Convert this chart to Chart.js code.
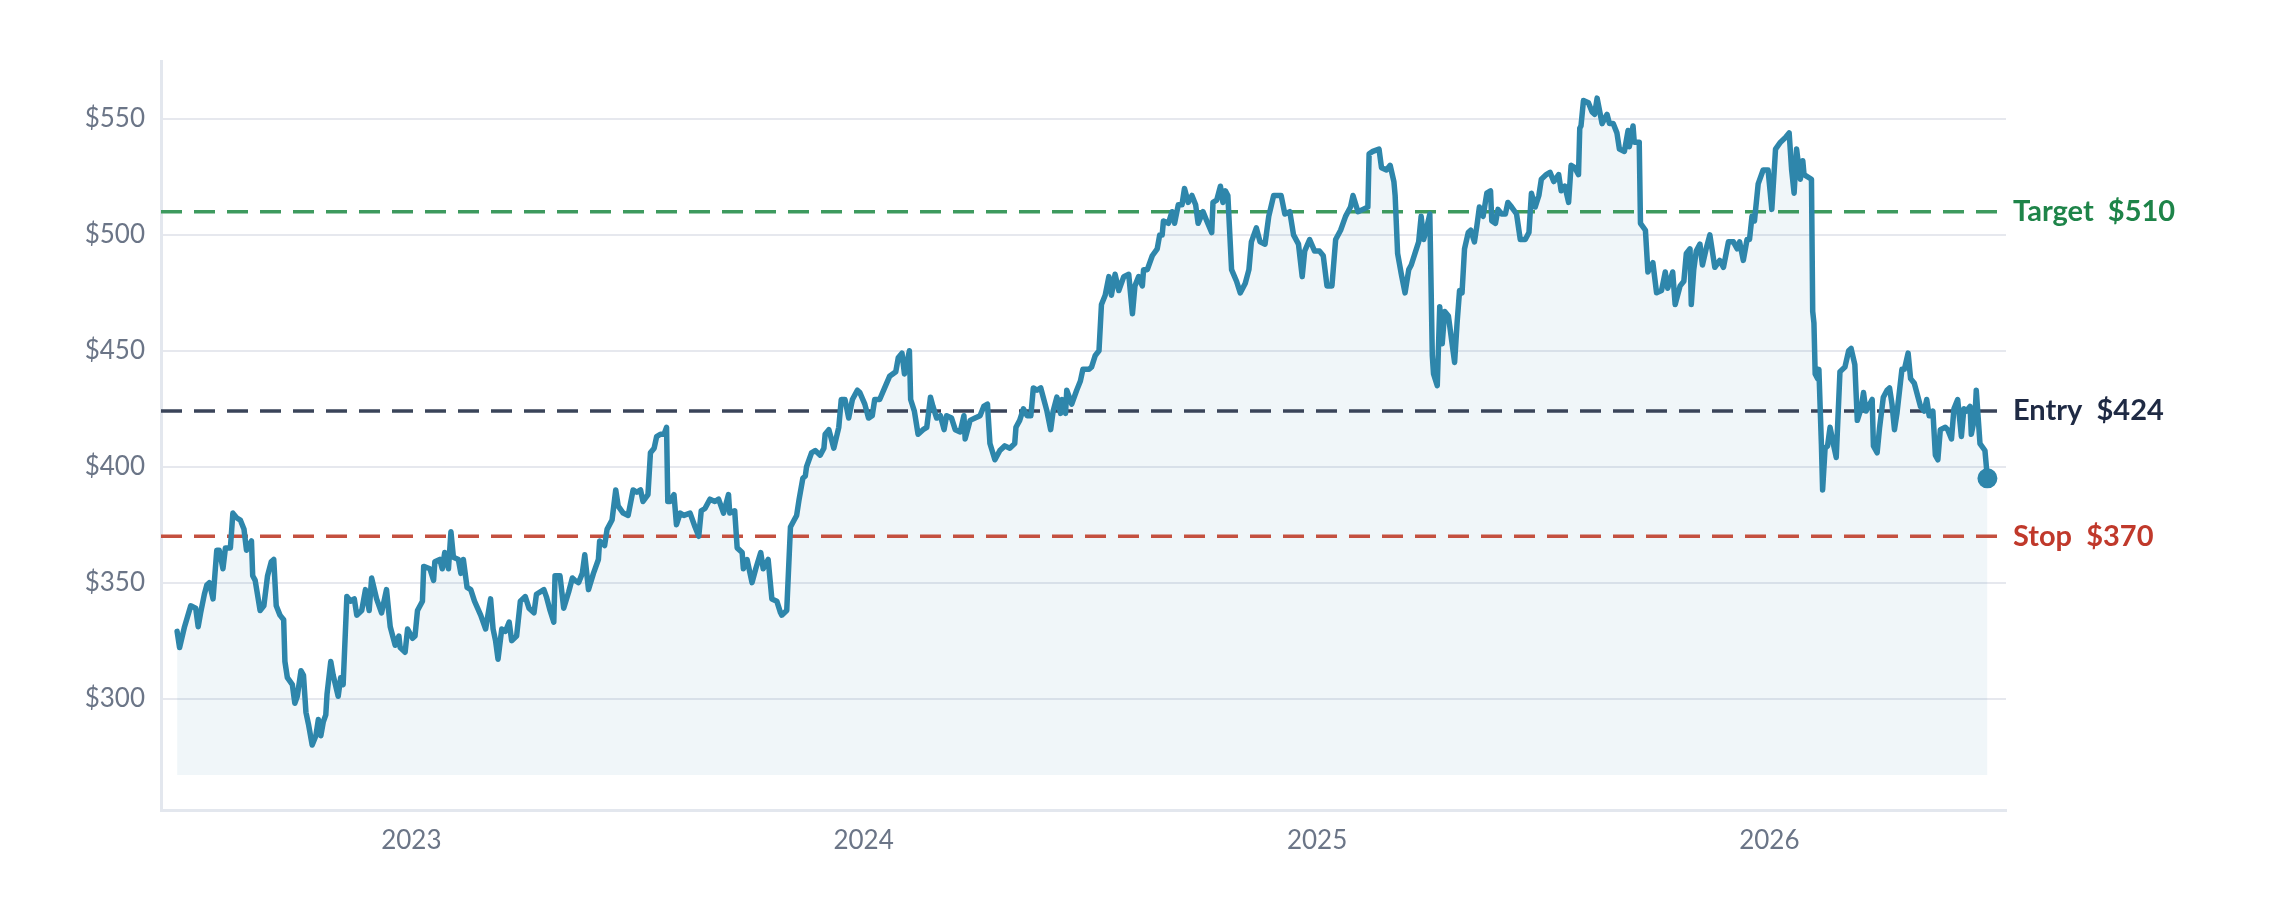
<!DOCTYPE html>
<html>
<head>
<meta charset="utf-8">
<script src="https://cdn.jsdelivr.net/npm/chart.js@4.4.1/dist/chart.umd.min.js"></script>
<style>
  html, body { margin: 0; background: #fff; }
  #wrap { width: 2280px; height: 900px; }
</style>
</head>
<body>
<div id="wrap"><canvas id="price_chart"></canvas></div>
<script>
// days counted from 2022-06-26, closing price
const startDate = Date.UTC(2022, 5, 26);
const dayOffsets = [
  0, 2, 6, 11, 15, 17, 19, 22, 24, 26,
  29, 32, 34, 37, 39, 43, 45, 48, 51, 54,
  56, 60, 61, 63, 67, 70, 73, 76, 78, 80,
  83, 86, 87, 89, 93, 95, 97, 100, 102, 104,
  106, 109, 112, 114, 116, 118, 120, 121, 124, 126,
  130, 132, 134, 137, 140, 143, 145, 149, 152, 155,
  157, 161, 165, 169, 172, 176, 179, 180, 184, 186,
  190, 192, 194, 198, 199, 204, 207, 208, 212, 214,
  216, 219, 221, 223, 227, 229, 231, 234, 237, 240,
  245, 249, 253, 255, 257, 259, 262, 265, 268, 270,
  274, 277, 281, 284, 288, 290, 296, 298, 301, 304,
  305, 309, 312, 316, 319, 321, 324, 327, 329, 332,
  336, 340, 341, 345, 347, 351, 354, 356, 360, 364,
  368, 371, 374, 376, 380, 382, 385, 387, 390, 393,
  395, 396, 398, 401, 403, 406, 409, 414, 418, 421,
  423, 426, 430, 434, 437, 441, 445, 446, 450, 452,
  456, 457, 460, 464, 467, 471, 473, 477, 480, 484,
  487, 488, 492, 495, 498, 500, 502, 505, 507, 508,
  512, 515, 519, 522, 523, 526, 530, 534, 536, 539,
  542, 545, 549, 551, 555, 558, 561, 563, 567, 571,
  575, 580, 582, 585, 587, 591, 592, 595, 598, 602,
  605, 608, 610, 613, 616, 619, 621, 625, 628, 632,
  635, 636, 640, 644, 648, 651, 654, 656, 660, 664,
  668, 672, 676, 677, 680, 683, 686, 689, 691, 694,
  697, 699, 702, 705, 707, 710, 713, 714, 717, 718,
  722, 726, 729, 731, 736, 738, 741, 744, 746, 749,
  752, 754, 757, 760, 764, 768, 771, 773, 776, 779,
  780, 783, 787, 791, 793, 795, 796, 800, 803, 805,
  808, 811, 813, 816, 819, 822, 824, 828, 831, 835,
  836, 839, 842, 844, 846, 848, 851, 855, 858, 862,
  865, 867, 871, 874, 878, 881, 885, 891, 894, 898,
  901, 905, 908, 910, 914, 918, 922, 925, 928, 932,
  935, 939, 943, 947, 949, 953, 957, 961, 962, 965,
  970, 972, 976, 979, 982, 983, 985, 988, 991, 994,
  996, 999, 1002, 1004, 1006, 1008, 1011, 1013, 1014, 1017,
  1019, 1021, 1023, 1026, 1029, 1031, 1033, 1035, 1037, 1039,
  1042, 1044, 1047, 1049, 1051, 1054, 1057, 1060, 1061, 1064,
  1066, 1069, 1072, 1074, 1077, 1081, 1084, 1088, 1091, 1093,
  1096, 1099, 1101, 1105, 1108, 1111, 1115, 1117, 1120, 1123,
  1125, 1128, 1131, 1132, 1133, 1135, 1139, 1142, 1144, 1146,
  1150, 1154, 1156, 1159, 1162, 1164, 1168, 1171, 1172, 1175,
  1176, 1180, 1181, 1185, 1187, 1191, 1194, 1198, 1201, 1203,
  1207, 1209, 1213, 1216, 1218, 1221, 1222, 1224, 1226, 1229,
  1231, 1234, 1237, 1241, 1245, 1248, 1252, 1256, 1259, 1261,
  1264, 1267, 1269, 1271, 1273, 1276, 1280, 1284, 1287, 1290,
  1294, 1298, 1301, 1303, 1305, 1307, 1310, 1312, 1313, 1319,
  1320, 1321, 1322, 1324, 1325, 1327, 1328, 1330, 1332, 1334,
  1337, 1339, 1342, 1346, 1349, 1351, 1354, 1356, 1359, 1361,
  1363, 1368, 1369, 1372, 1374, 1377, 1380, 1382, 1384, 1386,
  1388, 1392, 1394, 1397, 1399, 1402, 1407, 1410, 1412, 1414,
  1417, 1419, 1421, 1423, 1427, 1429, 1432, 1434, 1437, 1440,
  1442, 1444, 1447, 1448, 1451, 1452, 1455, 1459, 1461
];
const prices = [
  329, 322, 331, 340, 339, 331, 337, 345, 349, 350,
  343, 364, 364, 356, 365, 365, 380, 378, 377, 373,
  364, 368, 353, 351, 338, 340, 353, 359, 360, 340,
  336, 334, 316, 309, 306, 298, 301, 312, 310, 294,
  289, 280, 284, 291, 284, 290, 293, 302, 316, 310,
  301, 309, 306, 344, 342, 343, 336, 338, 347, 338,
  352, 343, 337, 347, 331, 323, 327, 322, 320, 330,
  326, 327, 338, 342, 357, 356, 351, 359, 360, 356,
  363, 356, 372, 361, 360, 354, 360, 348, 347, 342,
  336, 330, 343, 330, 325, 317, 330, 329, 333, 325,
  327, 342, 344, 339, 337, 345, 347, 344, 338, 333,
  353, 353, 339, 346, 352, 351, 350, 354, 362, 347,
  354, 360, 368, 366, 373, 377, 390, 383, 380, 379,
  390, 389, 390, 385, 388, 406, 408, 413, 414, 414,
  417, 385, 385, 388, 375, 380, 379, 380, 374, 370,
  381, 382, 386, 385, 386, 380, 388, 380, 381, 365,
  363, 356, 360, 350, 356, 363, 356, 360, 343, 342,
  337, 336, 338, 374, 377, 379, 386, 395, 396, 400,
  406, 407, 405, 408, 414, 416, 408, 417, 429, 429,
  421, 429, 433, 432, 427, 421, 422, 429, 429, 434,
  439, 441, 447, 449, 440, 450, 429, 424, 414, 416,
  417, 430, 426, 421, 422, 416, 422, 421, 416, 415,
  422, 412, 420, 421, 422, 426, 427, 410, 403, 407,
  409, 408, 410, 417, 420, 425, 422, 422, 434, 433,
  434, 430, 424, 416, 424, 430, 423, 429, 423, 433,
  427, 433, 437, 442, 442, 443, 448, 450, 470, 474,
  482, 474, 483, 476, 482, 483, 466, 478, 482, 478,
  485, 485, 491, 494, 500, 500, 506, 505, 510, 505,
  513, 513, 520, 514, 517, 513, 505, 510, 506, 501,
  514, 515, 521, 514, 519, 517, 485, 480, 475, 479,
  485, 497, 503, 497, 496, 508, 517, 517, 509, 510,
  500, 496, 482, 493, 498, 493, 493, 491, 478, 478,
  498, 502, 508, 512, 517, 510, 511, 512, 535, 536,
  537, 529, 528, 530, 523, 517, 492, 483, 475, 485,
  487, 492, 497, 508, 498, 502, 509, 448, 440, 435,
  469, 453, 467, 465, 453, 445, 462, 476, 475, 494,
  501, 502, 497, 504, 512, 508, 518, 519, 506, 505,
  511, 509, 509, 514, 512, 509, 498, 498, 501, 518,
  512, 517, 524, 526, 527, 523, 526, 519, 521, 514,
  530, 529, 526, 546, 547, 558, 557, 553, 552, 559,
  548, 552, 548, 548, 544, 537, 536, 545, 538, 547,
  540, 540, 505, 502, 484, 488, 475, 476, 484, 477,
  484, 470, 478, 480, 492, 494, 470, 485, 493, 496,
  487, 494, 500, 486, 489, 486, 497, 497, 494, 497,
  489, 498, 498, 508, 506, 522, 528, 528, 511, 537,
  540, 542, 544, 528, 518, 537, 524, 532, 526, 524,
  467, 462, 440, 438, 442, 410, 390, 408, 409, 417,
  409, 404, 441, 443, 450, 451, 444, 420, 425, 432,
  424, 429, 409, 406, 417, 430, 433, 434, 427, 416,
  423, 442, 442, 449, 438, 436, 426, 424, 429, 422,
  424, 405, 403, 416, 417, 416, 412, 425, 429, 413,
  425, 424, 426, 414, 422, 433, 410, 407, 395
];
const yearLabels = ['2023', '2024', '2025', '2026'];
const priceTicks = [300, 350, 400, 450, 500, 550];
const levelNames = ['Target', 'Entry', 'Stop'];
const levelPrices = [510, 424, 370];

const levelLineColors = ['#3d9a5e', '#3a4459', '#c4503f'];
const levelTextColors = ['#1e8449', '#1f2a44', '#c0392b'];
const X_MIN = -13, X_MAX = 1476;
const FONT = 'Lato, "Noto Sans", sans-serif';

function dayOf(year) {
  return (Date.UTC(year, 0, 1) - startDate) / 864e5;
}
const yearTicks = yearLabels.map(y => dayOf(+y));

const points = dayOffsets.map((d, i) => ({x: d, y: prices[i]}));
const last = points.length - 1;

const levelSets = levelNames.map((name, i) => ({
  label: name,
  data: [{x: X_MIN, y: levelPrices[i]}, {x: X_MAX, y: levelPrices[i]}],
  borderColor: levelLineColors[i],
  borderWidth: 3.5,
  borderDash: [21, 12],
  pointRadius: 0,
  fill: false,
  order: 2
}));

// level names to the right of the plot
const levelLabels = {
  id: 'levelLabels',
  afterDatasetsDraw(chart) {
    const {ctx, chartArea, scales} = chart;
    ctx.save();
    ctx.font = 'bold 29px ' + FONT;
    ctx.textBaseline = 'middle';
    ctx.textAlign = 'left';
    levelNames.forEach((name, i) => {
      ctx.fillStyle = levelTextColors[i];
      ctx.fillText(name + '  $' + levelPrices[i], chartArea.right + 7, scales.y.getPixelForValue(levelPrices[i]));
    });
    ctx.restore();
  }
};

const price_chart = document.getElementById('price_chart').getContext('2d');
new Chart(price_chart, {
  type: 'line',
  data: {
    datasets: [
      {
        label: 'Price',
        data: points,
        borderColor: '#2e86ab',
        backgroundColor: 'rgba(46,134,171,0.07)',
        borderWidth: 5.5,
        borderJoinStyle: 'round',
        borderCapStyle: 'round',
        tension: 0,
        fill: {value: 267},
        pointRadius: ctx => ctx.dataIndex === last ? 9 : 0,
        pointBackgroundColor: '#2e86ab',
        pointBorderColor: '#2e86ab',
        pointBorderWidth: 2,
        pointHoverRadius: 0,
        order: 1
      },
      ...levelSets
    ]
  },
  options: {
    responsive: true,
    maintainAspectRatio: false,
    animation: false,
    layout: {padding: {top: 61, right: 274, left: 0, bottom: 38}},
    plugins: {
      legend: {display: false},
      tooltip: {enabled: false},
      filler: {drawTime: 'beforeDatasetsDraw'}
    },
    scales: {
      x: {
        type: 'linear',
        min: X_MIN,
        max: X_MAX,
        afterBuildTicks: s => { s.ticks = yearTicks.map(v => ({value: v})); },
        ticks: {
          callback: v => yearLabels[yearTicks.indexOf(v)],
          color: '#6b7587',
          font: {family: FONT, size: 26},
          padding: 6,
          maxRotation: 0,
          autoSkip: false
        },
        grid: {display: false},
        border: {display: true, color: '#e3e7ee', width: 3}
      },
      y: {
        min: 251.6,
        max: 575,
        afterBuildTicks: s => { s.ticks = priceTicks.map(v => ({value: v})); },
        afterFit: s => { s.width = 161; },
        ticks: {
          callback: v => '$' + v,
          color: '#6b7587',
          font: {family: FONT, size: 26},
          padding: 16
        },
        grid: {color: '#e6e8ee', lineWidth: 2, drawTicks: false},
        border: {display: true, color: '#e3e7ee', width: 3}
      }
    }
  },
  plugins: [levelLabels]
});
</script>
</body>
</html>
